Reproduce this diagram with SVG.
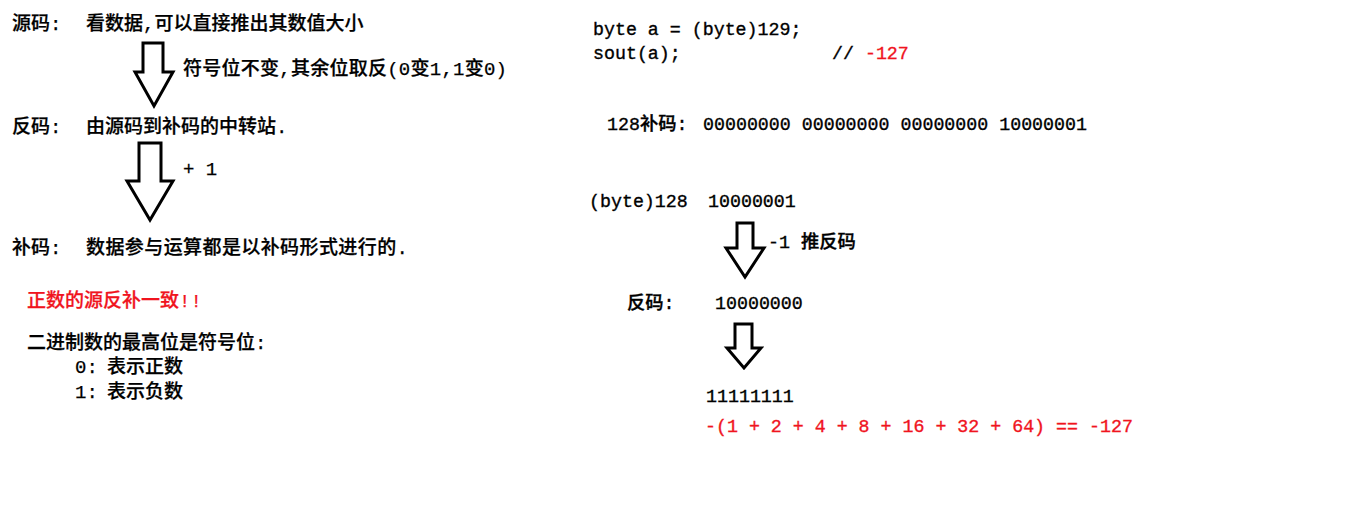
<svg xmlns="http://www.w3.org/2000/svg" width="1360" height="510" viewBox="0 0 1360 510">
<style>
.cn{font-family:"Liberation Mono","Noto Sans CJK SC",monospace;font-size:19px;font-weight:500;fill:#000;stroke:#000;stroke-width:0.25;}
.mono{font-family:"Liberation Mono","Noto Sans CJK SC",monospace;font-size:18.3px;font-weight:500;fill:#000;stroke:#000;stroke-width:0.35;}
.red{fill:#f0141e;stroke:#f0141e;}
.arrow{fill:#fff;stroke:#000;stroke-width:3;stroke-linejoin:miter;}
</style>
<rect width="1360" height="510" fill="#fff"/>
<g id="connectors">
<path class="arrow" d="M143,43 H163 V72 H173 L154,106 L135,72 H143 Z"/>
<path class="arrow" d="M139,143 H161 V181 H173 L150,220 L127,181 H139 Z"/>
<path class="arrow" d="M737,223 H753 V248 H764 L745,277 L726,248 H737 Z"/>
<path class="arrow" d="M735,324 H752 V348 H761 L744,368 L727,348 H735 Z"/>
</g>
<g id="yuanma">
<text class="cn" x="12" y="30">源码:</text>
<text class="cn" x="86" y="30">看数据,可以直接推出其数值大小</text>
</g>
<g id="label-fu">
<text class="cn" x="183" y="75" textLength="324" lengthAdjust="spacing">符号位不变,其余位取反(0变1,1变0)</text>
</g>
<g id="fanma">
<text class="cn" x="12" y="133">反码:</text>
<text class="cn" x="86" y="133">由源码到补码的中转站.</text>
</g>
<g id="label-plus1">
<text class="cn" x="183" y="175">+ 1</text>
</g>
<g id="buma">
<text class="cn" x="12" y="254">补码:</text>
<text class="cn" x="86" y="254" textLength="322" lengthAdjust="spacing">数据参与运算都是以补码形式进行的.</text>
</g>
<g id="notes">
<text class="cn red" x="27" y="307">正数的源反补一致!!</text>
<text class="cn" x="27" y="349">二进制数的最高位是符号位:</text>
<text class="cn" x="75" y="373">0:<tspan x="107">表示正数</tspan></text>
<text class="cn" x="75" y="398">1:<tspan x="107">表示负数</tspan></text>
</g>
<g id="code">
<text class="mono" x="593" y="35">byte a = (byte)129;</text>
<text class="mono" x="593" y="59">sout(a);</text>
<text class="mono" x="832" y="59">// <tspan class="red">-127</tspan></text>
</g>
<g id="buma128">
<text class="mono" x="607" y="130">128补码:</text>
<text class="mono" x="703" y="130">00000000 00000000 00000000 10000001</text>
</g>
<g id="byte128">
<text class="mono" x="589" y="207">(byte)128</text>
<text class="mono" x="708" y="207">10000001</text>
</g>
<g id="label-minus1">
<text class="mono" x="768" y="248">-1 推反码</text>
</g>
<g id="fanma2">
<text class="mono" x="627" y="309">反码:</text>
<text class="mono" x="715" y="309">10000000</text>
</g>
<g id="result">
<text class="mono" x="706" y="402">11111111</text>
<text class="mono red" x="705" y="432">-(1 + 2 + 4 + 8 + 16 + 32 + 64) == -127</text>
</g>
</svg>
